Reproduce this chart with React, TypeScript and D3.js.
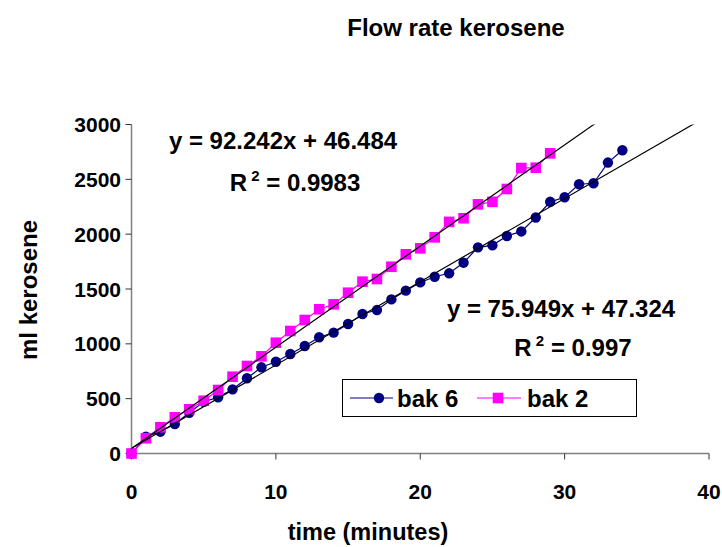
import React from "react";
import * as d3 from "d3";

const time6 = [0,1,2,3,4,5,6,7,8,9,10,11,12,13,14,15,16,17,18,19,20,21,22,23,24,25,26,27,28,29,30,31,32,33,34];
const bak6 = [0,153,199,269,372,472,512,585,686,786,837,907,980,1060,1102,1181,1272,1308,1405,1485,1560,1612,1643,1740,1880,1898,1983,2025,2152,2295,2337,2455,2464,2653,2765];
const time2 = [0,1,2,3,4,5,6,7,8,9,10,11,12,13,14,15,16,17,18,19,20,21,22,23,24,25,26,27,28,29];
const bak2 = [0,139,239,330,403,481,579,700,798,886,1010,1117,1217,1315,1360,1466,1567,1591,1703,1816,1871,1971,2112,2145,2272,2295,2412,2603,2606,2737];

const xTicks = [0,10,20,30,40];
const yTicks = [0,500,1000,1500,2000,2500,3000];

const fit6 = { slope: 75.949, intercept: 47.324, r2: "0.997", forecastEnd: 39 };
const fit2 = { slope: 92.242, intercept: 46.484, r2: "0.9983", forecastEnd: 34 };

const title = "Flow rate kerosene";
const xTitle = "time (minutes)";
const yTitle = "ml kerosene";
const name6 = "bak 6";
const name2 = "bak 2";

const W = 722, H = 547;
const L = 131.5, R = 709, T = 124.5, B = 453.5;

export default function App() {
  const x = d3.scaleLinear().domain([0, 40]).range([L, R]);
  const y = d3.scaleLinear().domain([0, 3000]).range([B, T]);
  const line = d3.line<[number, number]>().x(d => x(d[0])).y(d => y(d[1]));
  const pts6: [number, number][] = time6.map((t, i) => [t, bak6[i]]);
  const pts2: [number, number][] = time2.map((t, i) => [t, bak2[i]]);
  const trend = (f: typeof fit6): [number, number][] => [
    [0, f.intercept],
    [f.forecastEnd, f.intercept + f.slope * f.forecastEnd],
  ];
  const font = "'Liberation Sans', Arial, sans-serif";
  const blue = "#000080";
  const mag = "#FF00FF";
  const big = 24;

  return (
    <svg width={W} height={H} style={{ position: "absolute", left: 0, top: 0, background: "#fff" }} fontFamily={font} fontWeight="bold">
      <defs>
        <clipPath id="plotclip">
          <rect x={L} y={T} width={R - L} height={B - T} />
        </clipPath>
      </defs>
      <text x={456} y={36} textAnchor="middle" fontSize={big}>{title}</text>

      {/* axes */}
      <line x1={L} x2={R} y1={B} y2={B} stroke="#808080" strokeWidth={1.5} />
      <line x1={L} x2={L} y1={T} y2={B} stroke="#808080" strokeWidth={1.5} />
      {xTicks.map(t => (
        <g key={"x" + t}>
          <line x1={x(t)} x2={x(t)} y1={B} y2={B + 6} stroke="#333" strokeWidth={1} />
          <text x={x(t)} y={499} textAnchor="middle" fontSize={21}>{t}</text>
        </g>
      ))}
      {yTicks.map(v => (
        <g key={"y" + v}>
          <line x1={L - 6} x2={L} y1={y(v)} y2={y(v)} stroke="#333" strokeWidth={1} />
          <text x={121} y={y(v) + 7.5} textAnchor="end" fontSize={21}>{v}</text>
        </g>
      ))}
      <text x={368} y={540} textAnchor="middle" fontSize={23.5}>{xTitle}</text>
      <text transform={`translate(36.5,290) rotate(-90)`} textAnchor="middle" fontSize={big}>{yTitle}</text>

      {/* series */}
      <path d={line(pts6) || ""} fill="none" stroke={blue} strokeWidth={1.2} />
      <path d={line(pts2) || ""} fill="none" stroke={mag} strokeWidth={1.2} />
      {pts6.map((p, i) => (
        <circle key={"c" + i} cx={x(p[0])} cy={y(p[1])} r={5.2} fill={blue} />
      ))}
      {pts2.map((p, i) => (
        <rect key={"s" + i} x={x(p[0]) - 5.3} y={y(p[1]) - 5.3} width={10.6} height={10.6} fill={mag} />
      ))}
      <g clipPath="url(#plotclip)">
        <path d={line(trend(fit6)) || ""} fill="none" stroke="#000" strokeWidth={1.2} />
        <path d={line(trend(fit2)) || ""} fill="none" stroke="#000" strokeWidth={1.2} />
      </g>

      {/* equations */}
      <text x={283} y={148.5} textAnchor="middle" fontSize={big}>{`y = ${fit2.slope}x + ${fit2.intercept}`}</text>
      <text x={295} y={190.5} textAnchor="middle" fontSize={big}>
        R<tspan dy={-10} fontSize={15}> 2</tspan><tspan dy={10}>{` = ${fit2.r2}`}</tspan>
      </text>
      <text x={561} y={316.5} textAnchor="middle" fontSize={big}>{`y = ${fit6.slope}x + ${fit6.intercept}`}</text>
      <text x={573} y={355.5} textAnchor="middle" fontSize={big}>
        R<tspan dy={-10} fontSize={15}> 2</tspan><tspan dy={10}>{` = ${fit6.r2}`}</tspan>
      </text>

      {/* legend */}
      <rect x={342.5} y={379.5} width={294} height={37} fill="#fff" stroke="#000" strokeWidth={1} />
      <line x1={350} x2={393} y1={398} y2={398} stroke={blue} strokeWidth={1.2} />
      <circle cx={379} cy={398} r={5.2} fill={blue} />
      <text x={397} y={406.5} fontSize={big}>{name6}</text>
      <line x1={477} x2={521} y1={398} y2={398} stroke={mag} strokeWidth={1.2} />
      <rect x={498 - 5.3} y={398 - 5.3} width={10.6} height={10.6} fill={mag} />
      <text x={527} y={406.5} fontSize={big}>{name2}</text>
    </svg>
  );
}
